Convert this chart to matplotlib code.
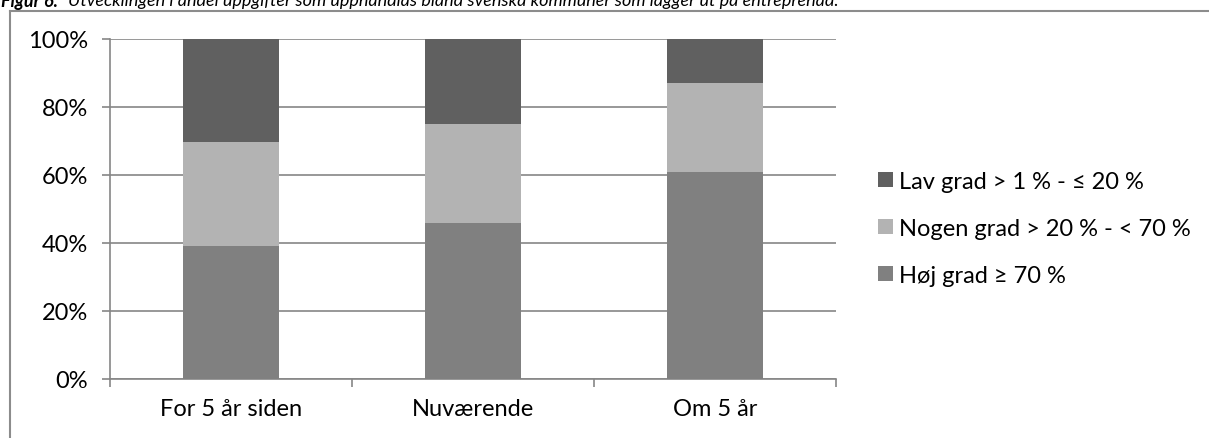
import matplotlib
matplotlib.use("Agg")
import matplotlib.pyplot as plt
from matplotlib.lines import Line2D

plt.rcParams['font.family'] = ['Lato', 'DejaVu Sans']

categories = ['For 5 år siden', 'Nuværende', 'Om 5 år']
hoj = [39.2, 46.0, 61.0]
nogen = [30.4, 29.1, 26.1]
lav = [30.4, 24.9, 12.9]
series_labels = ['Høj grad ≥ 70 %', 'Nogen grad > 20 % - < 70 %', 'Lav grad > 1 % - ≤ 20 %']
colors = ['#808080', '#b3b3b3', '#606060']
yticks = [0, 20, 40, 60, 80, 100]

fig = plt.figure(figsize=(12.09, 4.39), dpi=100)
ax = fig.add_axes([0.091, 0.1344, 0.6005, 0.7745])

x = list(range(len(categories)))
bottom2 = [a + b for a, b in zip(hoj, nogen)]
b1 = ax.bar(x, hoj, width=0.4, color=colors[0], zorder=3)
b2 = ax.bar(x, nogen, width=0.4, bottom=hoj, color=colors[1], zorder=3)
b3 = ax.bar(x, lav, width=0.4, bottom=bottom2, color=colors[2], zorder=3)

gray = '#868686'
fs = 17
ax.set_xlim(-0.5, len(categories) - 0.5)
ax.set_ylim(0, 100)
ax.set_yticks(yticks)
ax.set_yticklabels([f'{t}%' for t in yticks], fontsize=fs)
ax.yaxis.grid(True, color=gray, linewidth=1.2, zorder=0)
ax.set_xticks(x)
ax.set_xticklabels(categories, fontsize=fs)
ax.set_xticks([i - 0.5 for i in range(len(categories) + 1)], minor=True)
ax.tick_params(axis='x', which='major', length=0, pad=14)
ax.tick_params(axis='x', which='minor', length=6, color=gray, width=1.2)
ax.tick_params(axis='y', length=6, color=gray, width=1.2, pad=10)
for s in ['top', 'right']:
    ax.spines[s].set_visible(False)
for s in ['left', 'bottom']:
    ax.spines[s].set_color(gray)
    ax.spines[s].set_linewidth(1.2)

fig.legend([b3, b2, b1], series_labels[::-1], loc='center left',
           bbox_to_anchor=(0.709, 0.478), frameon=False, fontsize=fs,
           handlelength=0.6, handleheight=0.6, handletextpad=0.25,
           labelspacing=1.1)

# frame and cut-off caption
fy = 1 - 12 / 439
fx = 10 / 1209
fig.add_artist(Line2D([fx, fx], [0, fy], color='#8c8c8c', linewidth=1.5))
fig.add_artist(Line2D([fx, 1], [fy, fy], color='#8c8c8c', linewidth=1.5))
fig.text(0.001, 0.997, 'Figur 6.', fontsize=13, fontweight='bold', style='italic', va='center')
fig.text(0.056, 0.997, 'Utvecklingen i andel uppgifter som upphandlas bland svenska kommuner som lägger ut på entreprenad.',
         fontsize=13, style='italic', va='center')

fig.savefig('out.png', dpi=100)
